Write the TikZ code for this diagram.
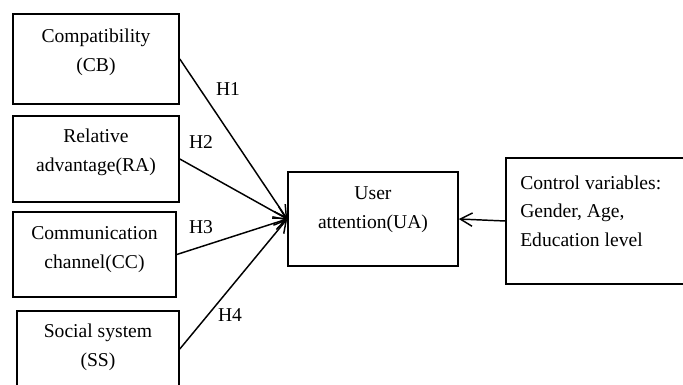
\documentclass[tikz,border=0pt]{standalone}
\usepackage{fontspec}
\setmainfont{Liberation Serif}
\usetikzlibrary{arrows.meta}

\begin{document}
\begin{tikzpicture}[x=0.75pt,y=-0.75pt,
    box/.style={draw,line width=1.2pt,inner sep=0pt},
    txt/.style={font=\fontsize{14.7}{21.5}\selectfont,align=center,inner sep=0pt},
    hyp/.style={font=\fontsize{14.7}{18}\selectfont,inner sep=0pt},
    arr/.style={-{Straight Barb[length=9pt,width=10pt]},line width=1.1pt}]
  \useasboundingbox (0,0) rectangle (683,385);
  \clip (0,0) rectangle (683,385);
  % factor boxes
  \node[box,minimum width=124.5pt,minimum height=67.5pt] (cb) at (96,59) {};
  \node[box,minimum width=124.5pt,minimum height=64.5pt] (ra) at (96,159) {};
  \node[box,minimum width=122.25pt,minimum height=63.75pt] (cc) at (94.5,254.5) {};
  \node[box,minimum width=121.5pt,minimum height=67.5pt] (ss) at (98,356) {};
  \node[txt] (cbt) at (96,52.5) {Compatibility\\(CB)};
  \node[txt] (rat) at (96,152.5) {Relative\\advantage(RA)};
  \node[txt] (cct) at (94.5,249.5) {Communication\\channel(CC)};
  \node[txt] (sst) at (98,347.5) {Social system\\(SS)};
  % outcome and controls
  \node[box,minimum width=127.5pt,minimum height=70.5pt] (ua) at (373,219) {};
  \node[txt] (uat) at (373,209.5) {User\\attention(UA)};
  \node[box,minimum width=138pt,minimum height=94.5pt] (ctrl) at (598,221) {};
  \node[txt,align=left,anchor=west] (ctrlt) at (520,211) {Control variables:\\Gender, Age,\\Education level};
  % hypotheses
  \foreach \a/\b in {cb/ua,ra/ua,cc/ua}
    \draw[arr] (\a.east) -- (\b.west);
  \draw[arr] ([yshift=5.25pt]ss.east) -- (ua.west);
  \draw[arr] (ctrl.west) -- (ua.east);
  \node[hyp] (h1) at (228,89) {H1};
  \node[hyp] (h2) at (201,142) {H2};
  \node[hyp] (h3) at (201,227) {H3};
  \node[hyp] (h4) at (230,315) {H4};
\end{tikzpicture}
\end{document}
